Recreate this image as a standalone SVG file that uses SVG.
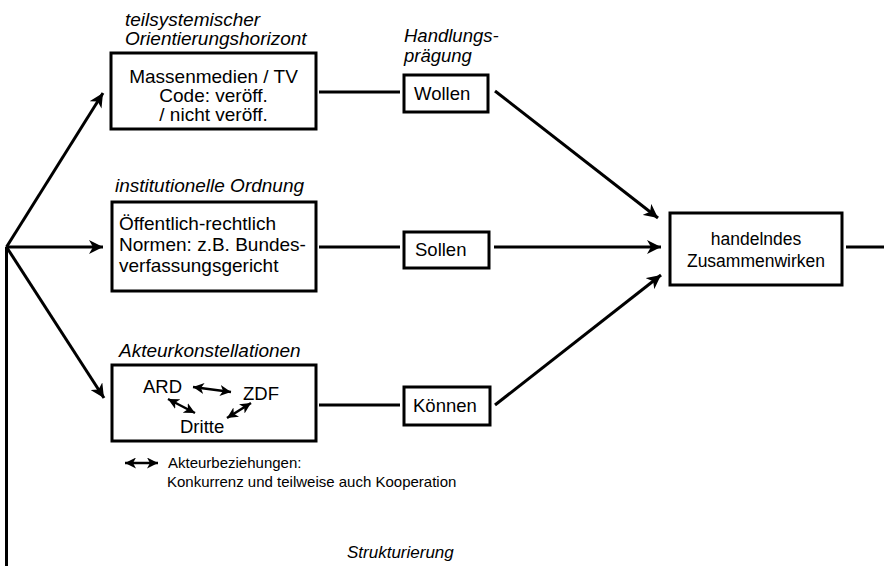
<svg xmlns="http://www.w3.org/2000/svg" width="884" height="566" viewBox="0 0 884 566">
<style>
.box{fill:#fff;stroke:#000;stroke-width:3}
.t{font-family:"Liberation Sans",Arial,sans-serif;font-size:18.5px;fill:#000}
.b{font-size:19px}
.c{text-anchor:middle}
.i{font-style:italic}
.s{font-size:15px}
.ln{fill:none;stroke:#000;stroke-width:3}
.sm{fill:none;stroke:#000;stroke-width:2.5}
</style>
<defs>
<marker id="ah" markerUnits="userSpaceOnUse" markerWidth="16" markerHeight="14" refX="14" refY="7" orient="auto">
<path d="M0,0 L14,7 L0,14 L4,7 z" fill="#000"/>
</marker>
<marker id="sh" markerUnits="userSpaceOnUse" markerWidth="13" markerHeight="11" refX="11" refY="5.5" orient="auto-start-reverse">
<path d="M0,0 L11,5.5 L0,11 L3,5.5 z" fill="#000"/>
</marker>
</defs>

<g id="connectors">
<line class="ln" x1="6.5" y1="247" x2="6.5" y2="566"/>
<line class="ln" x1="6.5" y1="247" x2="103" y2="93" marker-end="url(#ah)"/>
<line class="ln" x1="6.5" y1="247" x2="103" y2="247" marker-end="url(#ah)"/>
<line class="ln" x1="6.5" y1="247" x2="104" y2="398" marker-end="url(#ah)"/>
<line class="ln" x1="319" y1="92" x2="400" y2="92"/>
<line class="ln" x1="319" y1="247" x2="400" y2="247"/>
<line class="ln" x1="319" y1="405" x2="400" y2="405"/>
<line class="ln" x1="495" y1="91" x2="658" y2="218" marker-end="url(#ah)"/>
<line class="ln" x1="494" y1="247" x2="661" y2="247" marker-end="url(#ah)"/>
<line class="ln" x1="495" y1="405" x2="661" y2="275" marker-end="url(#ah)"/>
<line class="ln" x1="846" y1="247" x2="884" y2="247"/>
</g>

<g id="label-teilsystemisch">
<text class="t b i" x="125" y="26">teilsystemischer</text>
<text class="t b i" x="125" y="45">Orientierungshorizont</text>
</g>
<g id="node-massenmedien">
<rect class="box" x="111" y="53" width="205" height="76"/>
<text class="t b c" x="213.5" y="83">Massenmedien / TV</text>
<text class="t b c" x="213.5" y="102">Code: veröff.</text>
<text class="t b c" x="213.5" y="121">/ nicht veröff.</text>
</g>

<g id="label-institutionell">
<text class="t b i" x="115" y="192">institutionelle Ordnung</text>
</g>
<g id="node-oeffentlich">
<rect class="box" x="112" y="202" width="204" height="89"/>
<text class="t b" x="119" y="230">Öffentlich-rechtlich</text>
<text class="t b" x="119" y="251">Normen: z.B. Bundes-</text>
<text class="t b" x="119" y="272">verfassungsgericht</text>
</g>

<g id="label-akteur">
<text class="t b i" x="119" y="357">Akteurkonstellationen</text>
</g>
<g id="node-akteure">
<rect class="box" x="112" y="365" width="204" height="76"/>
<text class="t" x="143" y="393">ARD</text>
<text class="t" x="243" y="400">ZDF</text>
<text class="t" x="180" y="433">Dritte</text>
<line class="sm" x1="193" y1="387" x2="231" y2="392" marker-start="url(#sh)" marker-end="url(#sh)"/>
<line class="sm" x1="168" y1="399" x2="195" y2="413" marker-start="url(#sh)" marker-end="url(#sh)"/>
<line class="sm" x1="227" y1="418" x2="251" y2="403" marker-start="url(#sh)" marker-end="url(#sh)"/>
</g>

<g id="legend">
<line class="sm" x1="125" y1="463" x2="158" y2="463" stroke-width="2" marker-start="url(#sh)" marker-end="url(#sh)"/>
<text class="t s" x="168" y="468">Akteurbeziehungen:</text>
<text class="t s" x="167" y="487">Konkurrenz und teilweise auch Kooperation</text>
</g>

<g id="label-handlung">
<text class="t i" x="404" y="42">Handlungs-</text>
<text class="t i" x="404" y="62">prägung</text>
</g>
<g id="node-wollen">
<rect class="box" x="404" y="75" width="84" height="37"/>
<text class="t" x="414" y="100">Wollen</text>
</g>
<g id="node-sollen">
<rect class="box" x="404" y="232" width="85" height="36"/>
<text class="t" x="415" y="256">Sollen</text>
</g>
<g id="node-koennen">
<rect class="box" x="404" y="387" width="86" height="38"/>
<text class="t" x="413" y="412">Können</text>
</g>

<g id="node-handelndes">
<rect class="box" x="670" y="213" width="172" height="72"/>
<text class="t c" x="756" y="245" style="font-size:17.5px">handelndes</text>
<text class="t c" x="756" y="267" style="font-size:17.5px">Zusammenwirken</text>
</g>

<g id="label-strukturierung">
<text class="t i" x="347" y="558" style="font-size:17px">Strukturierung</text>
</g>
</svg>
